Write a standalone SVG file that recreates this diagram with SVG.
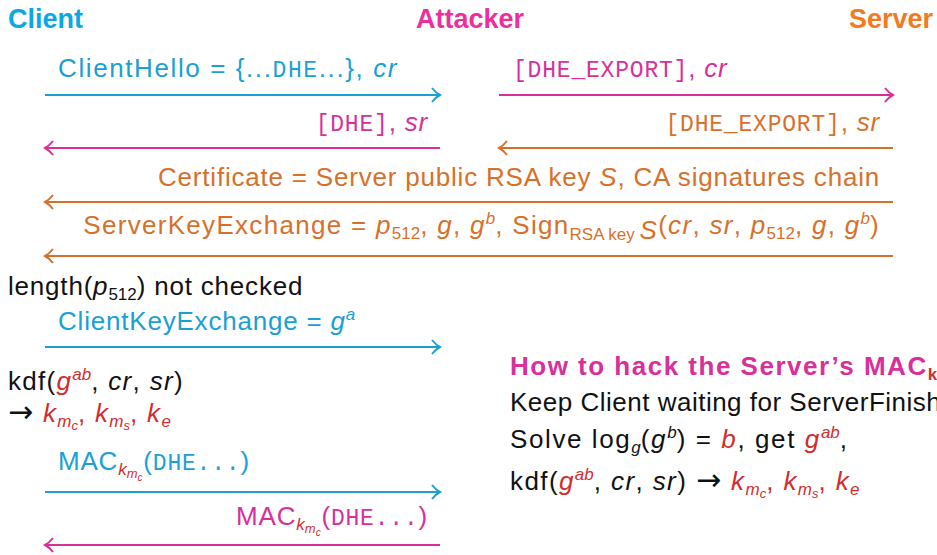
<svg xmlns="http://www.w3.org/2000/svg" width="937" height="555" viewBox="0 0 937 555">
<style>
text{font-family:"Liberation Sans","DejaVu Sans",sans-serif;font-size:26px;letter-spacing:0.8px}
.h{font-weight:bold;font-size:27px;letter-spacing:0}
.cy{fill:#1a9fd6}.mg{fill:#d8309a}.or{fill:#d8702a}.rd{fill:#d42c2c}.bk{fill:#111}
.tt{font-family:"Liberation Mono",monospace;font-size:23px}
.it{font-style:italic}
.sb{font-size:17px;letter-spacing:0}
.ss{font-size:13px;letter-spacing:0}
.ar{font-family:"DejaVu Sans",sans-serif;font-size:30px}
.ln{fill:none;stroke-width:2}
.lc{stroke:#1a9fd6}.lm{stroke:#d8309a}.lo{stroke:#d8702a}
</style>
<defs>
<marker id="ac" markerWidth="14" markerHeight="16" refX="12" refY="8" orient="auto" markerUnits="userSpaceOnUse"><path d="M4,1 Q8,6 12,8 Q8,10 4,15" fill="none" stroke="#1a9fd6" stroke-width="2"/></marker>
<marker id="am" markerWidth="14" markerHeight="16" refX="12" refY="8" orient="auto" markerUnits="userSpaceOnUse"><path d="M4,1 Q8,6 12,8 Q8,10 4,15" fill="none" stroke="#d8309a" stroke-width="2"/></marker>
<marker id="ao" markerWidth="14" markerHeight="16" refX="12" refY="8" orient="auto" markerUnits="userSpaceOnUse"><path d="M4,1 Q8,6 12,8 Q8,10 4,15" fill="none" stroke="#d8702a" stroke-width="2"/></marker>
</defs>

<g id="client"><text class="h" x="8" y="28" fill="#0aa8e4">Client</text></g>
<g id="attacker"><text class="h" x="470" y="28" text-anchor="middle" fill="#ec2f9b">Attacker</text></g>
<g id="server"><text class="h" x="933" y="28" text-anchor="end" fill="#f27a22">Server</text></g>

<g id="connectors">
<line class="ln lc" x1="45" y1="95" x2="440" y2="95" marker-end="url(#ac)"/>
<line class="ln lm" x1="499" y1="95" x2="893" y2="95" marker-end="url(#am)"/>
<line class="ln lm" x1="440" y1="148" x2="45" y2="148" marker-end="url(#am)"/>
<line class="ln lo" x1="893" y1="148" x2="499" y2="148" marker-end="url(#ao)"/>
<line class="ln lo" x1="893" y1="202" x2="45" y2="202" marker-end="url(#ao)"/>
<line class="ln lo" x1="893" y1="256" x2="45" y2="256" marker-end="url(#ao)"/>
<line class="ln lc" x1="45" y1="347" x2="440" y2="347" marker-end="url(#ac)"/>
<line class="ln lc" x1="45" y1="492" x2="440" y2="492" marker-end="url(#ac)"/>
<line class="ln lm" x1="440" y1="545" x2="45" y2="545" marker-end="url(#am)"/>
</g>

<g id="labels">
<text class="cy" x="58" y="77" style="letter-spacing:1.6px">ClientHello = {...<tspan class="tt">DHE</tspan>...}, <tspan class="it">cr</tspan></text>
<text class="mg" x="513" y="77"><tspan class="tt">[DHE_EXPORT]</tspan>, <tspan class="it">cr</tspan></text>
<text class="mg" x="428" y="131" text-anchor="end"><tspan class="tt">[DHE]</tspan>, <tspan class="it">sr</tspan></text>
<text class="or" x="880" y="131" text-anchor="end"><tspan class="tt">[DHE_EXPORT]</tspan>, <tspan class="it">sr</tspan></text>
<text class="or" x="880" y="186" text-anchor="end">Certificate = Server public RSA key <tspan class="it">S</tspan>, CA signatures chain</text>
<text class="or" x="880" y="234" text-anchor="end" style="letter-spacing:1.3px">ServerKeyExchange = <tspan class="it">p</tspan><tspan class="sb" dy="5">512</tspan><tspan dy="-5">, </tspan><tspan class="it">g</tspan>, <tspan class="it">g</tspan><tspan class="sb it" dy="-10">b</tspan><tspan dy="10">, Sign</tspan><tspan class="sb" dy="6">RSA key </tspan><tspan class="it" dy="-1">S</tspan><tspan dy="-5">(</tspan><tspan class="it">cr</tspan>, <tspan class="it">sr</tspan>, <tspan class="it">p</tspan><tspan class="sb" dy="5">512</tspan><tspan dy="-5">, </tspan><tspan class="it">g</tspan>, <tspan class="it">g</tspan><tspan class="sb it" dy="-10">b</tspan><tspan dy="10">)</tspan></text>
<text class="bk" x="8" y="295">length(<tspan class="it">p</tspan><tspan class="sb" dy="5">512</tspan><tspan dy="-5">) not checked</tspan></text>
<text class="cy" x="58" y="330">ClientKeyExchange = <tspan class="it">g</tspan><tspan class="sb it" dy="-10">a</tspan></text>
<text class="bk" x="8" y="390" style="letter-spacing:1.3px">kdf(<tspan class="rd it">g</tspan><tspan class="rd sb it" dy="-10">ab</tspan><tspan dy="10">, </tspan><tspan class="it">cr</tspan>, <tspan class="it">sr</tspan>)</text>
<text class="bk" x="8" y="422" style="letter-spacing:1.3px"><tspan class="ar">→</tspan> <tspan class="rd it">k</tspan><tspan class="rd sb it" dy="5">m</tspan><tspan class="rd it ss" dy="3">c</tspan><tspan class="rd" dy="-8">, </tspan><tspan class="rd it">k</tspan><tspan class="rd sb it" dy="5">m</tspan><tspan class="rd it ss" dy="3">s</tspan><tspan class="rd" dy="-8">, </tspan><tspan class="rd it">k</tspan><tspan class="rd sb it" dy="5">e</tspan></text>
<text class="cy" x="58" y="470">MAC<tspan class="rd sb it" dy="5">k</tspan><tspan class="rd it ss" dy="3">m</tspan><tspan class="rd it" dy="3" style="font-size:10px">c</tspan><tspan dy="-11">(</tspan><tspan class="tt">DHE...</tspan>)</text>
<text class="mg" x="428" y="525" text-anchor="end">MAC<tspan class="rd sb it" dy="5">k</tspan><tspan class="rd it ss" dy="3">m</tspan><tspan class="rd it" dy="3" style="font-size:10px">c</tspan><tspan dy="-11">(</tspan><tspan class="tt">DHE...</tspan>)</text>
</g>

<g id="hack-notes">
<text x="510" y="375" style="font-weight:bold;letter-spacing:1.5px" fill="#d8309a">How to hack the Server’s MAC<tspan class="rd sb" dy="5">k</tspan></text>
<text class="bk" x="510" y="411" style="letter-spacing:0.5px">Keep Client waiting for ServerFinish</text>
<text class="bk" x="510" y="448" style="letter-spacing:1.6px">Solve log<tspan class="sb it" dy="5">g</tspan><tspan dy="-5">(</tspan><tspan class="it">g</tspan><tspan class="sb it" dy="-10">b</tspan><tspan dy="10">) = </tspan><tspan class="rd it">b</tspan>, get <tspan class="rd it">g</tspan><tspan class="rd sb it" dy="-10">ab</tspan><tspan dy="10">,</tspan></text>
<text class="bk" x="510" y="490" style="letter-spacing:1.4px">kdf(<tspan class="rd it">g</tspan><tspan class="rd sb it" dy="-10">ab</tspan><tspan dy="10">, </tspan><tspan class="it">cr</tspan>, <tspan class="it">sr</tspan>) <tspan class="ar">→</tspan> <tspan class="rd it">k</tspan><tspan class="rd sb it" dy="5">m</tspan><tspan class="rd it ss" dy="3">c</tspan><tspan class="rd" dy="-8">, </tspan><tspan class="rd it">k</tspan><tspan class="rd sb it" dy="5">m</tspan><tspan class="rd it ss" dy="3">s</tspan><tspan class="rd" dy="-8">, </tspan><tspan class="rd it">k</tspan><tspan class="rd sb it" dy="5">e</tspan></text>
</g>
</svg>
